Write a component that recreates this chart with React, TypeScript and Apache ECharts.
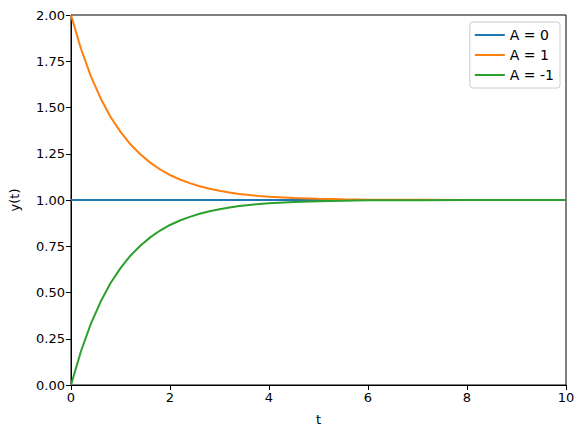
import React, { useEffect, useRef } from "react";
import * as echarts from "echarts";

const tValues = [0, 0.2, 0.4, 0.6, 0.8, 1, 1.2, 1.4, 1.6, 1.8, 2, 2.2, 2.4, 2.6, 2.8, 3, 3.2, 3.4, 3.6, 3.8, 4, 4.5, 5, 5.5, 6, 7, 8, 9, 10];
const seriesA1 = [2.0, 1.819, 1.67, 1.549, 1.449, 1.368, 1.301, 1.247, 1.202, 1.165, 1.135, 1.111, 1.091, 1.074, 1.061, 1.05, 1.041, 1.033, 1.027, 1.022, 1.018, 1.011, 1.007, 1.004, 1.002, 1.001, 1.0, 1.0, 1.0];
const seriesAm1 = [0.0, 0.181, 0.33, 0.451, 0.551, 0.632, 0.699, 0.753, 0.798, 0.835, 0.865, 0.889, 0.909, 0.926, 0.939, 0.95, 0.959, 0.967, 0.973, 0.978, 0.982, 0.989, 0.993, 0.996, 0.998, 0.999, 1.0, 1.0, 1.0];
const tA0 = [0, 10];
const seriesA0 = [1, 1];
const names = ["A = 0", "A = 1", "A = -1"];
const colors = ["#1f77b4", "#ff7f0e", "#2ca02c"];

export default function App() {
  const ref = useRef<HTMLDivElement>(null);
  useEffect(() => {
    const chart = echarts.init(ref.current!, null, { renderer: "svg" });
    const font = "DejaVu Sans";
    const pair = (ts: number[], ys: number[]) => ts.map((t, i) => [t, ys[i]]);
    chart.setOption({
      animation: false,
      backgroundColor: "#fff",
      textStyle: { fontFamily: font },
      grid: { left: 71, right: 18, top: 15, bottom: 53, show: true, borderColor: "#000", borderWidth: 1, containLabel: false },
      legend: {
        orient: "vertical",
        right: 24,
        top: 22,
        data: names,
        icon: "rect",
        itemWidth: 30,
        itemHeight: 2,
        itemGap: 6,
        padding: [6, 6, 6, 5],
        backgroundColor: "#fff",
        borderColor: "#ccc",
        borderWidth: 1,
        borderRadius: 3,
        textStyle: { fontFamily: font, fontSize: 14, color: "#000" },
      },
      xAxis: {
        type: "value",
        min: 0,
        max: 10,
        interval: 2,
        name: "t",
        nameLocation: "middle",
        nameGap: 28,
        nameTextStyle: { fontFamily: font, fontSize: 13, color: "#000" },
        axisLine: { show: true, onZero: false, lineStyle: { color: "#000", width: 1 } },
        axisTick: { show: true, inside: false, length: 5, lineStyle: { color: "#000" } },
        axisLabel: { fontFamily: font, fontSize: 13, color: "#000", margin: 6 },
        splitLine: { show: false },
      },
      yAxis: {
        type: "value",
        min: 0,
        max: 2,
        interval: 0.25,
        name: "y(t)",
        nameLocation: "middle",
        nameGap: 50,
        nameTextStyle: { fontFamily: font, fontSize: 13, color: "#000" },
        axisLine: { show: true, onZero: false, lineStyle: { color: "#000", width: 1 } },
        axisTick: { show: true, inside: false, length: 5, lineStyle: { color: "#000" } },
        axisLabel: { fontFamily: font, fontSize: 13, color: "#000", margin: 6, formatter: (v: number) => v.toFixed(2) },
        splitLine: { show: false },
      },
      series: [
        { name: names[0], type: "line", data: pair(tA0, seriesA0), showSymbol: false, lineStyle: { color: colors[0], width: 2 }, itemStyle: { color: colors[0] } },
        { name: names[1], type: "line", data: pair(tValues, seriesA1), showSymbol: false, lineStyle: { color: colors[1], width: 2 }, itemStyle: { color: colors[1] } },
        { name: names[2], type: "line", data: pair(tValues, seriesAm1), showSymbol: false, lineStyle: { color: colors[2], width: 2 }, itemStyle: { color: colors[2] } },
      ],
    });
    return () => chart.dispose();
  }, []);
  return <div ref={ref} style={{ position: "fixed", left: 0, top: 0, width: 584, height: 438 }} />;
}
